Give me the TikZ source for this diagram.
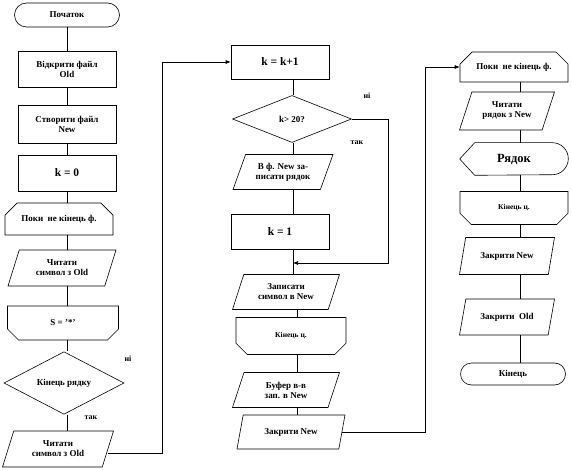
\documentclass[tikz,border=0pt]{standalone}
\usepackage{fontspec}
\setmainfont{Liberation Serif}[BoldFont={Liberation Serif Bold}]
\usetikzlibrary{arrows.meta,shapes.geometric,shapes.misc,positioning,calc}

\begin{document}
\begin{tikzpicture}[x=1pt,y=1pt,line width=0.6pt,
  every node/.style={font=\rmfamily\bfseries\fontsize{9}{10}\selectfont, align=center, inner sep=1pt},
  term/.style={draw, rounded rectangle, minimum width=107, minimum height=24},
  proc/.style={draw, rectangle, minimum width=98, minimum height=36},
  io/.style={draw, trapezium, trapezium left angle=58, trapezium right angle=122,
    trapezium stretches body, minimum width=108, minimum height=36},
  loopa/.style={draw, chamfered rectangle, chamfered rectangle corners={north west,north east},
    chamfered rectangle xsep=9pt, chamfered rectangle ysep=7pt, minimum width=108, minimum height=32},
  loopb/.style={draw, chamfered rectangle, chamfered rectangle corners={south west,south east},
    chamfered rectangle xsep=9pt, chamfered rectangle ysep=7pt, minimum width=108, minimum height=34},
  dec/.style={draw, diamond, inner sep=0pt, minimum width=120, minimum height=47},
  lbl/.style={font=\rmfamily\bfseries\fontsize{8}{9}\selectfont},
  big/.style={font=\rmfamily\bfseries\fontsize{11.5}{12}\selectfont},
  small/.style={font=\rmfamily\bfseries\fontsize{7.5}{8}\selectfont},
  arr/.style={-{Latex[length=5pt,width=4pt]}}]
\useasboundingbox (0,0) rectangle (572,-470);
% column lines
\coordinate (c1) at (67,0);
\coordinate (c2) at (293,0);
\coordinate (c2b) at (297,0);
\coordinate (c3) at (520,0);
% first column
\node[term] (start) at (67,-15) {Початок};
\node[proc] (open) at (67,-69) {Відкрити файл\\Old};
\node[proc, minimum height=38] (create) at (67,-124) {Створити файл\\New};
\node[proc, big] (k0) at (67,-173) {k = 0};
\node[loopa] (loop1) at (59,-219) {Поки~~не кінець ф.};
\node[io] (read1) at (62,-268) {Читати\\символ з Old};
\node[loopb, minimum width=111] (send) at (63,-323) {S = '*'};
\node[dec] (rowend) at (64,-383) {Кінець рядку};
\node[io, minimum width=111] (read2) at (58,-449) {Читати\\символ з Old};
\node[lbl] (no1) at (128,-359) {ні};
\node[lbl] (yes1) at (91,-418) {так};
% second column
\node[proc, big, minimum height=34] (kk1) at (280,-62) {k = k+1};
\node[dec, minimum width=119] (k20) at (292,-119) {k> 20?};
\node[io, minimum width=100, minimum height=35] (wrow) at (283,-172) {В ф. New за-\\писати рядок};
\node[proc, big, minimum height=35] (k1) at (280,-232) {k = 1};
\node[io, minimum width=107, minimum height=35] (wch) at (286,-292) {{\small Записати}\\символ в New};
\node[loopb, small, minimum width=110, minimum height=37] (lend2) at (291,-336) {Кінець ц.};
\node[io, minimum width=107, minimum height=35] (buf) at (286,-390) {Буфер в-в\\зап. в New};
\node[io, minimum width=108, minimum height=34] (close2) at (291,-432) {Закрити New};
\node[lbl] (no2) at (367,-96) {ні};
\node[lbl] (yes2) at (357,-143) {так};
% third column
\node[loopa, minimum height=30] (loop3) at (514,-67) {Поки~~не кінець ф.};
\node[io, minimum width=95, minimum height=38] (rrow) at (507,-111) {Читати\\рядок з New};
\node[minimum width=108, minimum height=32, font=\rmfamily\bfseries\fontsize{12.5}{13}\selectfont] (disp) at (514,-159) {Рядок};
\draw (disp.west) -- ([xshift=15]disp.north west) -- ([xshift=-16]disp.north east)
  arc (90:-90:16) -- ([xshift=15]disp.south west) -- cycle;
\node[loopb, small, minimum height=33] (lend3) at (514,-208) {Кінець ц.};
\node[io, minimum width=95, minimum height=37] (close3) at (507,-256) {Закрити New};
\node[io, minimum width=95] (cold) at (507,-317) {Закрити~~Old};
\node[term, minimum height=22] (end) at (513,-374) {Кінець};
% connectors
\foreach \a/\b in {start/open,open/create,create/k0,k0/loop1,loop1/read1,read1/send,send/rowend,rowend/read2}
  \draw (\a.south -| c1) -- (\b.north -| c1);
\foreach \a/\b in {kk1/k20,k20/wrow,wrow/k1,k1/wch}
  \draw (\a.south -| c2) -- (\b.north -| c2);
\foreach \a/\b in {wch/lend2,lend2/buf,buf/close2}
  \draw (\a.south -| c2b) -- (\b.north -| c2b);
\foreach \a/\b in {loop3/rrow,rrow/disp,disp/lend3,lend3/close3,close3/cold,cold/end}
  \draw (\a.south -| c3) -- (\b.north -| c3);
% loop-back lines
\coordinate (j1) at (162,0);
\coordinate (j2) at (388,0);
\coordinate (j3) at (425,0);
\coordinate (m2) at (293,-263);
\draw[arr] ([yshift=-4]read2.east) -| (j1 |- kk1.west) -- (kk1.west);
\draw[arr] (k20.east) -| (j2 |- m2) -- (m2);
\draw[arr] (close2.east) -| (j3 |- loop3.west) -- (loop3.west);
\end{tikzpicture}
\end{document}
